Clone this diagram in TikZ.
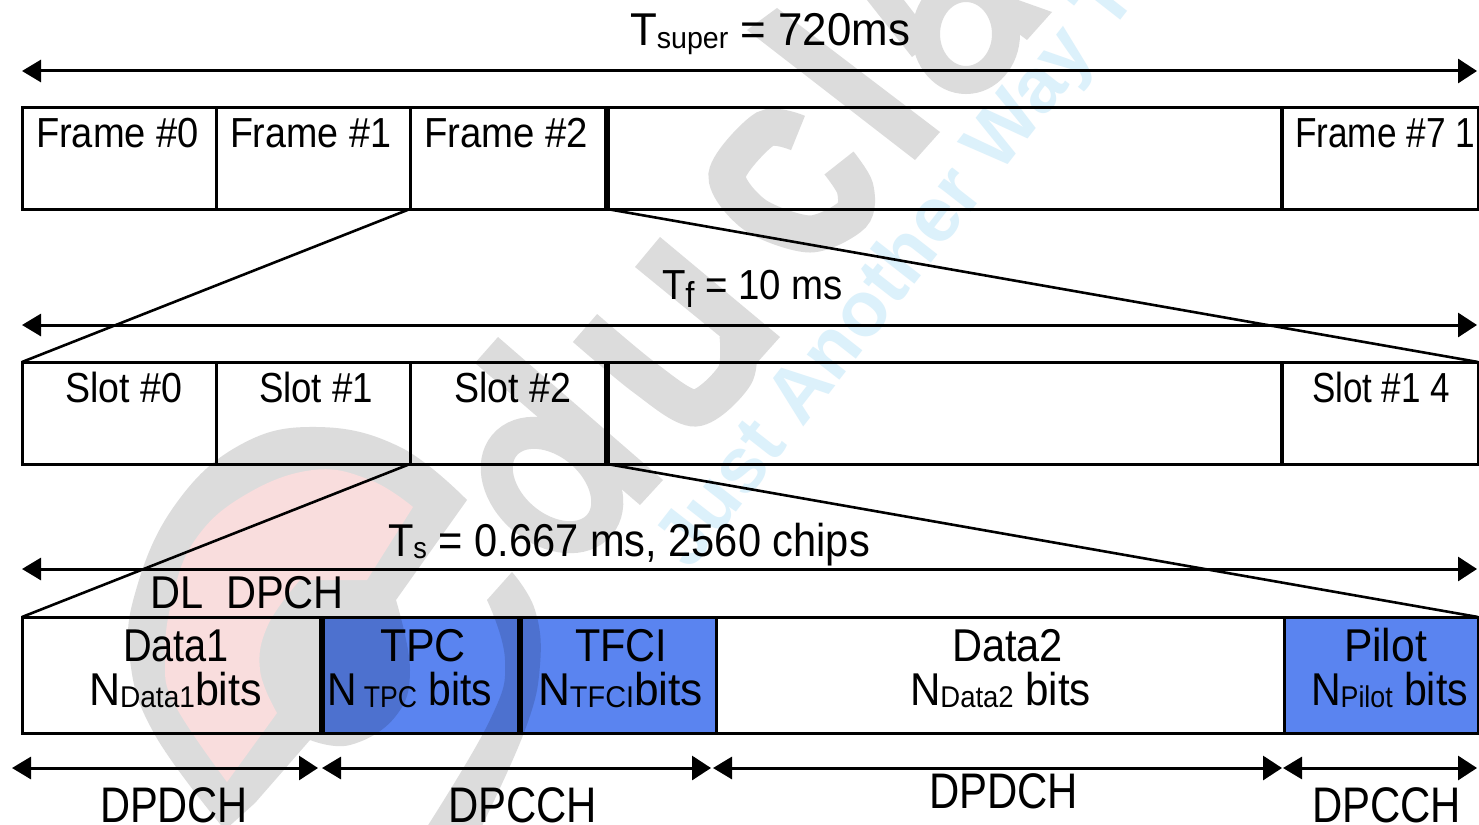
\documentclass[tikz,border=0pt]{standalone}
\usepackage{fontspec}
\usepackage{graphicx}
\setmainfont{Liberation Sans}
\usetikzlibrary{arrows.meta}
\definecolor{wmgray}{HTML}{DCDCDC}
\definecolor{wmblue}{HTML}{DCF1FB}
\definecolor{wmpink}{HTML}{F9DDDD}
\definecolor{cellblue}{HTML}{5A84F0}
\newcommand{\fitw}[2]{\resizebox{#1pt}{\height}{#2}}
\newcommand{\sz}[1]{\fontsize{#1}{#1}\selectfont}
\newcommand{\sbs}[1]{\raisebox{-2pt}{\sz{30}#1}}
\tikzset{
  x=1pt,y=1pt,
  cell/.style={draw=black,line width=3pt,anchor=north west,outer sep=0pt,inner sep=0pt},
  bluecell/.style={cell,fill=cellblue,blend mode=multiply},
  lab/.style={anchor=base west,inner sep=0pt,outer sep=0pt,text=black},
  span/.style={line width=3pt,{Triangle[length=19pt,width=22pt]}-{Triangle[length=19pt,width=24pt]}},
  fan/.style={line width=2.6pt,black},
  heavy/.style={line width=5.5pt,black},
  wmstroke/.style={draw=wmgray,line width=37pt,line cap=butt},
}
\begin{document}
\begin{tikzpicture}
\useasboundingbox (0,0) rectangle (1479,-824);
\fill[white] (0,0) rectangle (1479,-824);
% background watermark, in pixel coordinates (y downwards)
\begin{scope}
\clip (0,0) rectangle (1479,-824);
\begin{scope}[yscale=-1]
% e
\fill[wmgray] (467,500) -- plot[smooth,tension=.7] coordinates {(467,500) (400,447) (317,427) (240,445) (175,505) (136,590) (130,660) (155,735) (225,830)} -- (255,803) -- (310,740) -- plot[smooth,tension=.7] coordinates {(310,740) (350,745) (395,717) (410,670) (396,600)} -- cycle;
\fill[wmpink] (413,507) -- plot[smooth,tension=.7] coordinates {(413,507) (370,480) (313,470) (245,495) (195,540) (172,600) (165,660) (175,705) (227,782)} -- (277,713) -- plot[smooth,tension=.7] coordinates {(277,713) (260,670) (268,625) (300,580)} -- (367,580) -- cycle;
% swoosh
\fill[wmgray] (512,572) -- plot[smooth,tension=.7] coordinates {(512,572) (535,610) (540,665) (525,730) (480,830)} -- (425,830) -- plot[smooth,tension=.7] coordinates {(425,830) (490,720) (505,660) (487,600)} -- cycle;
% d
\fill[wmgray] (498,337) -- (663,480) -- (640,505) -- (475,363) -- cycle;
\draw[wmgray,line width=32pt] (552,485) ellipse[x radius=62,y radius=44,rotate=40];
% u
\fill[wmgray] (660,237) -- (780,337) -- (755,365) -- (635,267) -- cycle;
\draw[wmstroke] plot[smooth] coordinates {(585,328) (645,378) (695,408) (735,375) (738,335)};
% c
\draw[wmstroke] plot[smooth] coordinates {(798,133) (765,129) (727,175) (755,215) (810,234) (852,215) (855,188) (839,163)};
% l
\fill[wmgray] (777,8) -- (940,132) -- (915,160) -- (747,30) -- cycle;
% a
\fill[wmgray] (1052,12) -- (1027,40) -- (960,-10) -- (990,-10) -- cycle;
\draw[wmgray,line width=28pt] (966,34) ellipse[x radius=40,y radius=46];
\fill[wmgray] (863,-5) -- (900,-5) -- (935,40) -- (912,57) -- cycle;
\end{scope}
\node[anchor=base west,rotate=52,inner sep=0pt,text=wmblue] (wmtext) at (690,-572) {\sz{78}\bfseries Just Another Way To};
\end{scope}
% row 1
\node[cell,minimum width=194pt,minimum height=101pt] (f0) at (22,-108) {};
\node[cell,minimum width=194pt,minimum height=101pt] (f1) at (216,-108) {};
\node[cell,minimum width=197pt,minimum height=101pt] (f2) at (410,-108) {};
\node[cell,minimum width=675pt,minimum height=101pt] (fgap) at (607,-108) {};
\node[cell,minimum width=196pt,minimum height=101pt] (f71) at (1282,-108) {};
% row 2
\node[cell,minimum width=194pt,minimum height=102pt] (s0) at (22,-362) {};
\node[cell,minimum width=194pt,minimum height=102pt] (s1) at (216,-362) {};
\node[cell,minimum width=197pt,minimum height=102pt] (s2) at (410,-362) {};
\node[cell,minimum width=675pt,minimum height=102pt] (sgap) at (607,-362) {};
\node[cell,minimum width=196pt,minimum height=102pt] (s14) at (1282,-362) {};
% row 3
\node[cell,minimum width=300pt,minimum height=116pt] (data1) at (22,-617) {};
\node[bluecell,minimum width=198pt,minimum height=116pt] (tpc) at (322,-617) {};
\node[bluecell,minimum width=196pt,minimum height=116pt] (tfci) at (520,-617) {};
\node[cell,minimum width=568pt,minimum height=116pt] (data2) at (716,-617) {};
\node[bluecell,minimum width=194pt,minimum height=116pt] (pilot) at (1284,-617) {};
% heavier dividers
\draw[heavy] (f2.north east) -- (f2.south east);
\draw[heavy] (s2.north east) -- (s2.south east);
\draw[line width=4pt] (fgap.north east) -- (fgap.south east);
\draw[line width=4pt] (sgap.north east) -- (sgap.south east);
\draw[heavy] (tpc.north west) -- (tpc.south west);
\draw[heavy] (tpc.north east) -- (tpc.south east);
% fan lines
\draw[fan] (f2.south west) -- (s0.north west);
\draw[fan] (f2.south east) -- (s14.north east);
\draw[fan] (s2.south west) -- (data1.north west);
\draw[fan] (s2.south east) -- (pilot.north east);
% spans
\coordinate (a1l) at (22,-71); \coordinate (a1r) at (1477,-71);
\coordinate (a2l) at (22,-325); \coordinate (a2r) at (1477,-325);
\coordinate (a3l) at (22,-569); \coordinate (a3r) at (1477,-569);
\coordinate (b0) at (12,-768); \coordinate (b1) at (318,-768); \coordinate (b1b) at (322,-768);
\coordinate (b2) at (711,-768); \coordinate (b2b) at (713,-768);
\coordinate (b3) at (1282,-768); \coordinate (b3b) at (1283,-768); \coordinate (b4) at (1477,-768);
\draw[span] (a1l) -- (a1r);
\draw[span] (a2l) -- (a2r);
\draw[span] (a3l) -- (a3r);
\draw[span] (b0) -- (b1);
\draw[span] (b1b) -- (b2);
\draw[span] (b2b) -- (b3);
\draw[span] (b3b) -- (b4);
% labels
\node[lab] (t1) at (630,-46) {\fitw{280}{\sz{46}T\raisebox{-3pt}{\sz{30}super} = 720ms}};
\node[lab] (l0) at (36,-147) {\fitw{163}{\sz{42}Frame \#0}};
\node[lab] (l1) at (230,-147) {\fitw{161}{\sz{42}Frame \#1}};
\node[lab] (l2) at (424,-147) {\fitw{164}{\sz{42}Frame \#2}};
\node[lab] (l71) at (1295,-147) {\fitw{180}{\sz{42}Frame \#7 1}};
\node[lab] (t2) at (662,-299) {\fitw{181}{\sz{42}T\raisebox{-8pt}{\sz{36}f} = 10 ms}};
\node[lab] (m0) at (65,-402) {\fitw{117}{\sz{42}Slot \#0}};
\node[lab] (m1) at (259,-402) {\fitw{114}{\sz{42}Slot \#1}};
\node[lab] (m2) at (454,-402) {\fitw{117}{\sz{42}Slot \#2}};
\node[lab] (m14) at (1312,-402) {\fitw{138}{\sz{42}Slot \#1 4}};
\node[lab] (t3) at (388,-556) {\fitw{482}{\sz{46}T\sbs{s} = 0.667 ms, 2560 chips}};
\node[lab] (dl) at (150,-608) {\fitw{194}{\sz{46}DL\ \ DPCH}};
\node[lab] (d1a) at (123,-661) {\fitw{106}{\sz{46}Data1}};
\node[lab] (d1b) at (89,-705) {\fitw{173}{\sz{46}N\sbs{Data1}bits}};
\node[lab] (ta) at (380,-661) {\fitw{86}{\sz{46}TPC}};
\node[lab] (tb) at (327,-705) {\fitw{165}{\sz{46}N\sbs{ TPC} bits}};
\node[lab] (fa) at (575,-661) {\fitw{92}{\sz{46}TFCI}};
\node[lab] (fb) at (538,-705) {\fitw{165}{\sz{46}N\sbs{TFCI}bits}};
\node[lab] (d2a) at (952,-661) {\fitw{111}{\sz{46}Data2}};
\node[lab] (d2b) at (910,-705) {\fitw{181}{\sz{46}N\sbs{Data2} bits}};
\node[lab] (pa) at (1344,-661) {\fitw{83}{\sz{46}Pilot}};
\node[lab] (pb) at (1311,-705) {\fitw{157}{\sz{46}N\sbs{Pilot} bits}};
\node[lab] (c1) at (100,-822) {\fitw{148}{\sz{50}DPDCH}};
\node[lab] (c2) at (448,-822) {\fitw{149}{\sz{50}DPCCH}};
\node[lab] (c3) at (929,-808) {\fitw{149}{\sz{50}DPDCH}};
\node[lab] (c4) at (1312,-822) {\fitw{149}{\sz{50}DPCCH}};
\end{tikzpicture}
\end{document}
